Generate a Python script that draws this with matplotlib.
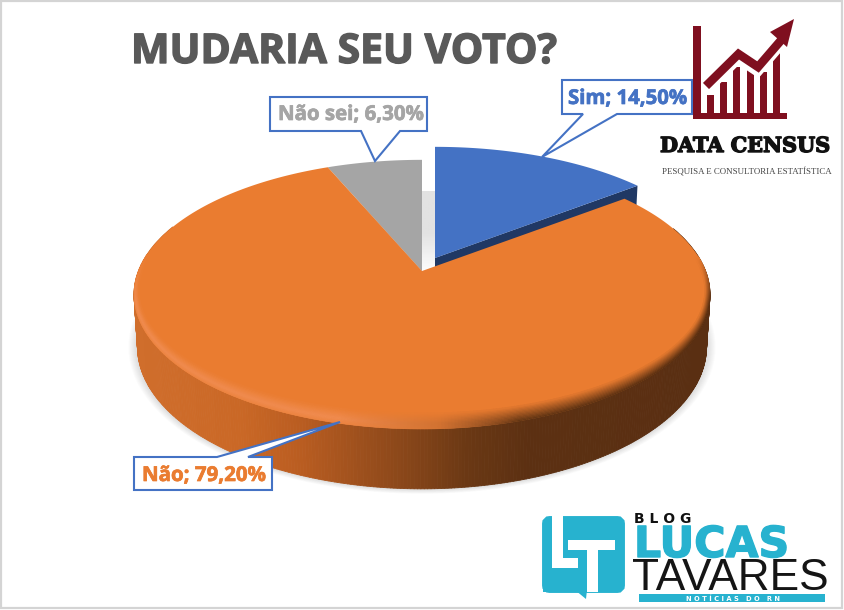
import numpy as np
import matplotlib
matplotlib.use("Agg")
import matplotlib.pyplot as plt
import matplotlib.patheffects as pe
from matplotlib.patches import Polygon, Rectangle, FancyBboxPatch
from matplotlib.collections import PolyCollection

# ---- data ----
categories = ["Sim", "Não", "Não sei"]
values = [14.5, 79.2, 6.3]
title = "MUDARIA SEU VOTO?"

W, H = 844, 610
fig = plt.figure(figsize=(W / 100, H / 100), dpi=100)
ax = fig.add_axes([0, 0, 1, 1])
ax.set_xlim(0, W)
ax.set_ylim(H, 0)
ax.axis("off")

BLUE, ORANGE, GRAY = "#4472C4", "#EA7C30", "#A5A5A5"
DARK_BLUE = "#203864"
CX, CY = 422.0, 271.0
A, B, K = 283.6, 130.5, 0.174
DEPTH, LOW = 51.0, 0.988


def project(theta, r=1.0, rv=None, low=False, off=(0, 0)):
    """theta: clockwise from the top, radians."""
    rv = r if rv is None else rv
    u, v = r * np.sin(theta), rv * np.cos(theta)
    w = 1 + K * v
    s = LOW if low else 1.0
    x = CX + off[0] + A * u * s / w
    y = CY + off[1] - B * v * s / w + (DEPTH / w if low else 0)
    return x, y


def lerp_stops(x, xs, cols):
    cols = np.array(cols, float)
    return np.stack([np.interp(x, xs, cols[:, i]) for i in range(3)], axis=-1) / 255


fr = np.cumsum([0] + values) / sum(values) * 2 * np.pi
sim_a = np.linspace(fr[0], fr[1], 80)
nao_a = np.linspace(fr[1], fr[2], 500)
sei_a = np.linspace(fr[2], fr[3], 40)
SIM_OFF = (13, -13)

# soft shadow
fa = np.linspace(0, 2 * np.pi, 300)
for i in range(9):
    sx, sy = project(fa, low=True, off=(0, 0))
    mx, my = sx.mean(), sy.mean()
    g = 1 + 0.0035 * (9 - i)
    ax.add_patch(Polygon(np.c_[mx + (sx - mx) * g, my + (sy - my) * g], closed=True,
                         fc="#777777", ec="none", alpha=0.028, zorder=1))

# pale inner wall in the gap beside the small slice
grad = np.linspace(1, 0, 64)[:, None]
gap_cm = matplotlib.colors.LinearSegmentedColormap.from_list("g", ["#FFFFFF", "#E2E2E2", "#E2E2E2"])
ax.imshow(grad, extent=(CX, CX + 13, CY + 4, CY - 80), cmap=gap_cm, aspect="auto", zorder=2)
ax.set_xlim(0, W)
ax.set_ylim(H, 0)

# "Sim" slice: cut face, top
ex, ey = project(fr[1], off=SIM_OFF)
lx, ly = project(fr[1], low=True, off=SIM_OFF)
sx0, sy0 = CX + SIM_OFF[0], CY + SIM_OFF[1]
ax.add_patch(Polygon([(sx0, sy0), (ex, ey), (lx, ly), (sx0, sy0 + DEPTH)], fc=DARK_BLUE, ec="none", zorder=3))
tx, ty = project(sim_a, off=SIM_OFF)
ax.add_patch(Polygon(np.r_[[(sx0, sy0)], np.c_[tx, ty]], fc=BLUE, ec="none", zorder=4))

# "Não sei" slice
tx, ty = project(sei_a)
ax.add_patch(Polygon(np.r_[[(CX, CY)], np.c_[tx, ty]], fc=GRAY, ec="none", zorder=4))

# "Não" slice: side wall
side_x = [134, 240, 300, 400, 470, 530, 710]
side_c = [(208, 110, 44), (202, 104, 38), (186, 93, 33), (140, 72, 26), (106, 56, 20), (92, 48, 18), (90, 47, 18)]
x1, y1 = project(nao_a)
x2, y2 = project(nao_a, low=True)
quads, cols = [], []
for i in range(len(nao_a) - 1):
    if np.cos(nao_a[i]) > 0.35:
        continue
    quads.append([(x1[i], y1[i]), (x1[i + 1], y1[i + 1]), (x2[i + 1], y2[i + 1]), (x2[i], y2[i])])
    cols.append(lerp_stops(x1[i], side_x, side_c))
ax.add_collection(PolyCollection(quads, facecolors=cols, edgecolors=cols, linewidths=0.6, zorder=5))

# "Não" slice: top
ax.add_patch(Polygon(np.r_[[(CX, CY)], np.c_[x1, y1]], fc=ORANGE, ec="none", zorder=6))

# bevel on the rim of the top
rim_x = [134, 340, 440, 520, 710]
rim_c = [(240, 140, 80), (240, 140, 80), (205, 112, 50), (100, 54, 20), (88, 46, 16)]
base = np.array(matplotlib.colors.to_rgb(ORANGE))
rings = np.linspace(0, 1, 13)
quads, cols = [], []
for j in range(len(rings) - 1):
    t = rings[j]
    r0, r1 = 1 - 0.016 * rings[j], 1 - 0.016 * rings[j + 1]
    v0, v1 = 1 - 0.085 * rings[j], 1 - 0.085 * rings[j + 1]
    ax0, ay0 = project(nao_a, r0, v0)
    ax1, ay1 = project(nao_a, r1, v1)
    for i in range(len(nao_a) - 1):
        front = np.clip((0.12 - np.cos(nao_a[i])) / 0.35, 0, 1)
        if front <= 0:
            continue
        col_r = lerp_stops(ax0[i], rim_x, rim_c)
        light = 1 - np.clip((ax0[i] - 340) / 180, 0, 1)
        prof_light = np.clip(1 - abs(t - 0.3) / 0.7, 0, 1)
        prof_dark = 1 - t
        w = (light * prof_light + (1 - light) * prof_dark) * front
        quads.append([(ax0[i], ay0[i]), (ax0[i + 1], ay0[i + 1]), (ax1[i + 1], ay1[i + 1]), (ax1[i], ay1[i])])
        cols.append(base * (1 - w) + col_r * w)
ax.add_collection(PolyCollection(quads, facecolors=cols, edgecolors=cols, linewidths=0.4, zorder=7))


# ---- text helper: fit text to a pixel span ----
def fit(s, x0, x1, y, va="baseline", stroke=0.0, **kw):
    t = ax.text(x0, y, s, ha="left", va=va, fontsize=20, **kw)
    bb = t.get_window_extent(fig.canvas.get_renderer())
    t.set_fontsize(20 * (x1 - x0) / bb.width)
    if stroke:
        t.set_path_effects([pe.withStroke(linewidth=stroke, foreground=kw["color"])])
    return t


# ---- callouts ----
label = [f"{c}; {v:.2f}%".replace(".", ",") for c, v in zip(categories, values)]
boxes = [
    dict(xy=(562, 80, 692, 114), tail=[(583, 114), (542, 157), (617, 114)], col=BLUE, tx=(568, 687), base=104),
    dict(xy=(134, 457, 272, 490), tail=[(217, 457), (340, 422), (248, 457)], col=ORANGE, tx=(142, 266), base=481),
    dict(xy=(270, 97, 427, 131), tail=[(361, 131), (375, 161), (400, 131)], col=GRAY, tx=(278, 424), base=120),
]
for lab, b in zip(label, boxes):
    l, t, r, bt = b["xy"]
    top_edge = b["tail"][0][1] == t
    if top_edge:
        pts = [(l, t), b["tail"][0], b["tail"][1], b["tail"][2], (r, t), (r, bt), (l, bt)]
    else:
        pts = [(l, t), (r, t), (r, bt), b["tail"][2], b["tail"][1], b["tail"][0], (l, bt)]
    ax.add_patch(Polygon(pts, closed=True, fc="white", ec=BLUE, lw=1.5, joinstyle="miter", zorder=10))
    fit(lab, b["tx"][0], b["tx"][1], b["base"], stroke=0.5, color=b["col"], family="Open Sans", weight="bold", zorder=11)

# ---- title ----
fit(title, 131, 557, 63, stroke=1.0, color="#595959", family="Open Sans", weight="bold", zorder=11)

# ---- Data Census logo ----
RED = "#7F0F1F"
ax.add_patch(Rectangle((693, 26), 8, 93, fc=RED, ec="none", zorder=12))
ax.add_patch(Rectangle((693, 113), 94, 6, fc=RED, ec="none", zorder=12))
for bx, top in zip([707, 720, 733, 747, 760, 773], [95, 82, 67, 70, 72, 53]):
    ax.add_patch(Rectangle((bx, top), 6.5, 114 - top, fc=RED, ec="none", zorder=12))
ln_x = [706, 738.5, 758, 783]
ln_y = [86, 54, 67, 38]
ax.plot(ln_x, np.array(ln_y) + 7, color="white", lw=4.5, solid_capstyle="butt", zorder=13)
ax.plot(ln_x, ln_y, color=RED, lw=6.2, solid_capstyle="butt", solid_joinstyle="miter", zorder=14)
ax.add_patch(Polygon([(794, 19), (770, 32), (787, 47)], fc=RED, ec="none", zorder=14))
fit("DATA CENSUS", 660, 830, 152, stroke=1.0, color="#111111", family="DejaVu Serif", weight="heavy", zorder=12)
fit("PESQUISA E CONSULTORIA ESTATÍSTICA", 662, 832, 175, color="#444444", family="Liberation Serif", zorder=12)

# ---- Lucas Tavares logo ----
CY_L = "#27B2CF"
ax.add_patch(FancyBboxPatch((549, 523), 69, 63, boxstyle="round,pad=0,rounding_size=1", fc=CY_L, ec=CY_L, lw=10, zorder=12))
ax.add_patch(Polygon([(575, 590), (587, 590), (586, 599)], fc=CY_L, ec="none", zorder=12))
for (rx, ry, rw, rh) in [(552, 510, 11, 58), (552, 558, 26, 10), (568, 540, 47, 10), (587, 540, 11, 52)]:
    ax.add_patch(Rectangle((rx, ry), rw, rh, fc="white", ec="none", zorder=13))
ax.add_patch(Rectangle((543, 520), 9, 72, fc=CY_L, ec="none", zorder=12))
fit("B L O G", 634, 691, 523, color="#111111", family="DejaVu Sans", weight="bold", zorder=12)
fit("LUCAS", 634, 789, 557, stroke=1.0, color=CY_L, family="DejaVu Sans", weight="bold", zorder=12)
fit("TAVARES", 632, 829, 590, color="#151515", family="Liberation Sans", zorder=12)
ax.add_patch(Rectangle((639, 594), 186, 8, fc=CY_L, ec="none", zorder=12))
fit("N O T Í C I A S   D O   R N", 686, 780, 601, color="white", family="DejaVu Sans", weight="bold", zorder=13)

# frame
ax.add_patch(Rectangle((0.5, 0.5), W - 3, H - 3, fc="none", ec="#D4D4D4", lw=1.6, zorder=20))

fig.savefig("out.png", dpi=100)
